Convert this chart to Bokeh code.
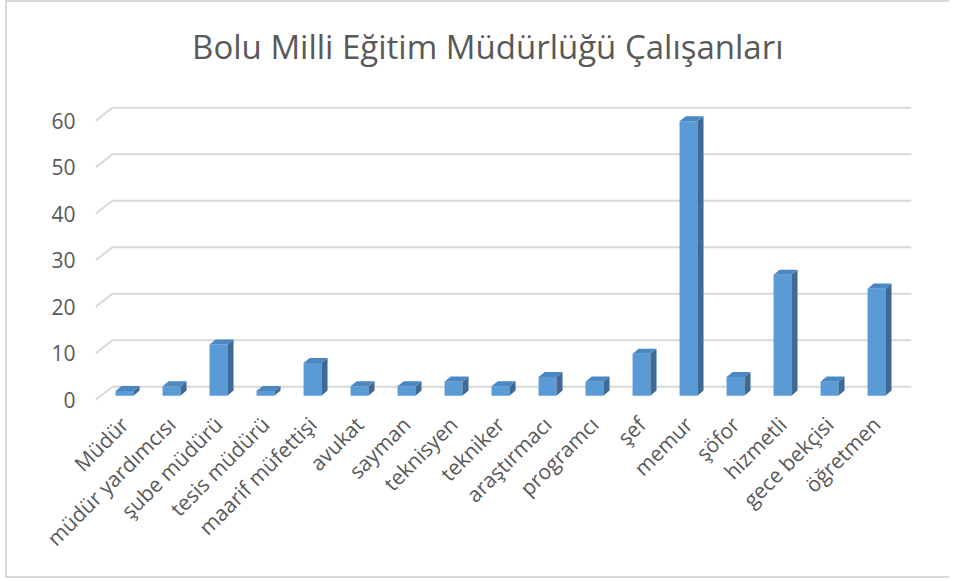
from bokeh.plotting import figure
from bokeh.models import FixedTicker, Range1d, Label
from bokeh.embed import file_html
from bokeh.resources import INLINE
import math

# ---- data ----
categories = ["Müdür", "müdür yardımcısı", "şube müdürü", "tesis müdürü", "maarif müfettişi",
              "avukat", "sayman", "teknisyen", "tekniker", "araştırmacı", "programcı", "şef",
              "memur", "şöfor", "hizmetli", "gece bekçisi", "öğretmen"]
counts = [1, 2, 11, 1, 7, 2, 2, 3, 2, 4, 3, 9, 59, 4, 26, 3, 23]
y_ticks = [0, 10, 20, 30, 40, 50, 60]
title_text = "Bolu Milli Eğitim Müdürlüğü Çalışanları"

# ---- style constants ----
FONT = "Open Sans"
TEXT_COLOR = "#595959"
GRID_COLOR = "#d9d9d9"
FRONT = "#5b9bd5"
SIDE = "#3d6a96"
TOP = "#4a87c3"
HALF_W = 0.19       # half width of bar front face (category units)
DEPTH_X = 0.13      # 3D depth offset (category units)
DEPTH_Y = 1.1       # 3D depth offset (value units)
BASE = 0.9          # bars sit slightly behind the front plane
GRID_SHIFT = 2.8    # back wall offset in value units
X0, X1 = -0.617, 16.745
WALL_X = X0 + 0.36
Y_TOP = 85.45       # frame extends up to hold the title
TITLE_X, TITLE_Y = 7.73, 76.0

p = figure(width=944, height=578, output_backend="svg", toolbar_location=None,
           title_location=None,
           x_range=Range1d(X0, X1), y_range=Range1d(-1, Y_TOP),
           min_border_left=88, min_border_right=40, min_border_top=0, min_border_bottom=176)
p.outline_line_color = None
p.xgrid.visible = False
p.ygrid.visible = False
p.styles = {"margin-left": "5px",
            "border-left": "2px solid #d9d9d9", "border-top": "2px solid #d9d9d9",
            "border-bottom": "2px solid #d9d9d9"}

# back wall gridlines with slanted left edge
gx, gy = [], []
for t in y_ticks:
    gx.append([X0, WALL_X, X1])
    gy.append([t, t + GRID_SHIFT, t + GRID_SHIFT])
p.multi_line(gx, gy, line_color=GRID_COLOR, line_width=2)

xs = list(range(len(categories)))
# front faces
p.quad(left=[x - HALF_W for x in xs], right=[x + HALF_W for x in xs],
       bottom=[BASE] * len(xs), top=[c + BASE for c in counts],
       fill_color=FRONT, line_color=None)
# side and top faces
side_x, side_y, top_x, top_y = [], [], [], []
for x, c in zip(xs, counts):
    r = x + HALF_W
    l = x - HALF_W
    side_x.append([r, r, r + DEPTH_X, r + DEPTH_X])
    side_y.append([BASE, c + BASE, c + BASE + DEPTH_Y, BASE + DEPTH_Y])
    top_x.append([l, r, r + DEPTH_X, l + DEPTH_X])
    top_y.append([c + BASE, c + BASE, c + BASE + DEPTH_Y, c + BASE + DEPTH_Y])
p.patches(side_x, side_y, fill_color=SIDE, line_color=None)
p.patches(top_x, top_y, fill_color=TOP, line_color=None)

# title
p.add_layout(Label(x=TITLE_X, y=TITLE_Y, text=title_text, text_align="center",
                   text_baseline="middle", text_font=FONT, text_font_size="33px",
                   text_color=TEXT_COLOR))

# axes
p.xaxis.ticker = FixedTicker(ticks=xs)
p.xaxis.major_label_overrides = {i: c for i, c in enumerate(categories)}
p.xaxis.major_label_orientation = math.pi / 4
p.yaxis.ticker = FixedTicker(ticks=y_ticks)
for ax in (p.xaxis, p.yaxis):
    ax.axis_line_color = None
    ax.major_tick_line_color = None
    ax.minor_tick_line_color = None
    ax.major_label_text_font = FONT
    ax.major_label_text_color = TEXT_COLOR
    ax.major_label_text_font_size = "21px"
p.yaxis.major_label_standoff = 14
p.xaxis.major_label_standoff = 10

open("out.html", "w").write(file_html(p, INLINE))
